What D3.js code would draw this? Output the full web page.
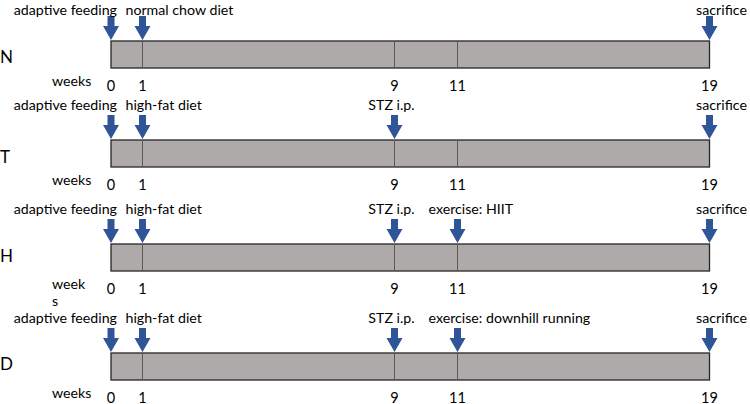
<!DOCTYPE html>
<html><head><meta charset="utf-8">
<script src="https://cdn.jsdelivr.net/npm/d3@7"></script>
<style>html,body{margin:0;padding:0;background:#fff;}svg{display:block;}</style>
</head><body>
<svg id="chart" width="750" height="404"></svg>
<script>
// ---- data ----
const groups = ["N", "T", "H", "D"];
const weekTicks = [0, 1, 9, 11, 19];
const dividerWeeks = [1, 9, 11];
const studyStart = 0, studyEnd = 19;
const eventsN = [{week:0,label:"adaptive feeding"},{week:1,label:"normal chow diet"},{week:19,label:"sacrifice"}];
const eventsT = [{week:0,label:"adaptive feeding"},{week:1,label:"high-fat diet"},{week:9,label:"STZ i.p."},{week:19,label:"sacrifice"}];
const eventsH = [{week:0,label:"adaptive feeding"},{week:1,label:"high-fat diet"},{week:9,label:"STZ i.p."},{week:11,label:"exercise: HIIT"},{week:19,label:"sacrifice"}];
const eventsD = [{week:0,label:"adaptive feeding"},{week:1,label:"high-fat diet"},{week:9,label:"STZ i.p."},{week:11,label:"exercise: downhill running"},{week:19,label:"sacrifice"}];
const groupEvents = [eventsN, eventsT, eventsH, eventsD];
const weeksLabel = ["weeks", "weeks", "week|s", "weeks"];

// ---- layout (positions/styles) ----
const rowTops = [41, 140, 244, 353];
const letterDy = [22, 23, 18, 17];
const barH = 27;
const font = "Lato, 'Open Sans', sans-serif";
const labelSize = 14.2;
const arrowColor = "#2F5597";
const barFill = "#AEAAAA";
// label horizontal placement relative to arrow: [anchor, dx]
const labelPlace = {
  "adaptive feeding": ["end", 6],
  "normal chow diet": ["start", -17],
  "high-fat diet": ["start", -17],
  "STZ i.p.": ["middle", -3],
  "exercise: HIIT": ["start", -29],
  "exercise: downhill running": ["start", -29],
  "sacrifice": ["middle", 12]
};

const svg = d3.select("#chart");
const x = d3.scaleLinear().domain([studyStart, studyEnd]).range([111, 709.5]);

groups.forEach((g, i) => {
  const top = rowTops[i];
  const row = svg.append("g");

  // group letter
  row.append("text").attr("x", 0).attr("y", top + letterDy[i])
    .attr("font-family", font).attr("font-size", 17).attr("fill", "#000").text(g);

  // bar
  row.append("rect").attr("x", x(studyStart)).attr("y", top)
    .attr("width", x(studyEnd) - x(studyStart)).attr("height", barH)
    .attr("fill", barFill).attr("stroke", "#262626").attr("stroke-width", 1.3);

  // dividers
  row.selectAll("line.div").data(dividerWeeks).join("line")
    .attr("x1", d => x(d)).attr("x2", d => x(d))
    .attr("y1", top + 0.6).attr("y2", top + barH - 0.6)
    .attr("stroke", "#5a5a5a").attr("stroke-width", 1);

  // week tick labels
  row.selectAll("text.wk").data(weekTicks).join("text")
    .attr("x", d => x(d)).attr("y", top + 49.5)
    .attr("text-anchor", "middle").attr("font-family", font).attr("font-size", 14.5)
    .attr("fill", "#000").text(d => d);

  // "weeks" label
  const parts = weeksLabel[i].split("|");
  const wt = row.append("text").attr("x", 52).attr("y", top + 45)
    .attr("font-family", font).attr("font-size", labelSize).attr("fill", "#000");
  parts.forEach((p, k) => {
    wt.append("tspan").attr("x", 52).attr("dy", k === 0 ? 0 : 17).text(p);
  });

  // arrows & event labels
  const ev = groupEvents[i];
  const aTop = top - 25, aHead = top - 15, aTip = top - 1;
  row.selectAll("path.arrow").data(ev).join("path")
    .attr("d", d => {
      const cx = x(d.week);
      const p = d3.path();
      p.moveTo(cx - 3.5, aTop); p.lineTo(cx + 3.5, aTop); p.lineTo(cx + 3.5, aHead);
      p.lineTo(cx + 8, aHead); p.lineTo(cx, aTip); p.lineTo(cx - 8, aHead);
      p.lineTo(cx - 3.5, aHead); p.closePath();
      return p.toString();
    })
    .attr("fill", arrowColor);

  row.selectAll("text.ev").data(ev).join("text")
    .attr("x", d => x(d.week) + labelPlace[d.label][1])
    .attr("y", Math.max(top - 30, 15))
    .attr("text-anchor", d => labelPlace[d.label][0])
    .attr("font-family", font).attr("font-size", labelSize).attr("fill", "#000")
    .text(d => d.label);
});
</script>
</body></html>
